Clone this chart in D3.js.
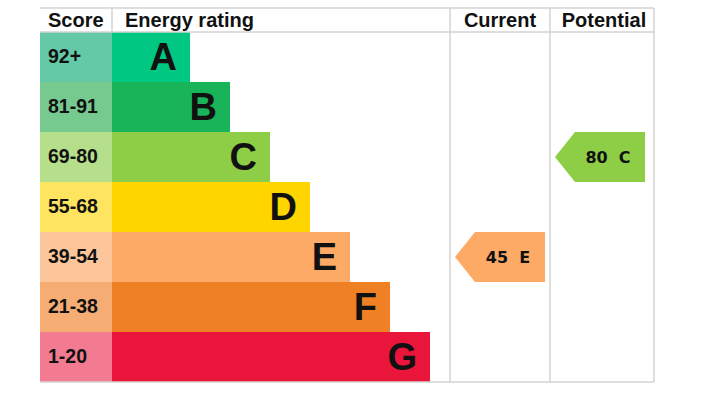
<!DOCTYPE html>
<html><head><meta charset="utf-8">
<script src="https://cdn.jsdelivr.net/npm/d3@7"></script>
<style>html,body{margin:0;padding:0;background:#fff;}svg{display:block;}</style>
</head><body>
<svg id="chart" width="715" height="405"></svg>
<script>
const bands = ["A","B","C","D","E","F","G"];
const scoreRanges = ["92+","81-91","69-80","55-68","39-54","21-38","1-20"];
const bandMins = [92,81,69,55,39,21,1];
const bandColors = ["#00c781","#19b459","#8dce46","#ffd500","#fcaa65","#ef8023","#e9153b"];
const scoreColors = ["#64c9a6","#76c98f","#b5df8b","#ffe45f","#fdc69a","#f5ad74","#f27b92"];
const headers = ["Score","Energy rating","Current","Potential"];
const currentScore = 45;
const potentialScore = 80;

(function () {
const svg = d3.select("#chart");
const leftX = 40, scoreRight = 112, curLeft = 450, potLeft = 550, rightX = 654;
const topY = 8, headBottom = 32, bottomY = 382;

const y = d3.scaleBand().domain(bands).range([headBottom, bottomY]).padding(0);
const xEnd = d3.scaleLinear().domain([0, bands.length - 1]).range([190, 430]);
const bandOf = s => bands[bandMins.findIndex(m => s >= m)];

const font = "'Liberation Sans', Arial, sans-serif";
const gridColor = "#d3d3d3";

// rows
const rows = svg.append("g").selectAll("g").data(bands).join("g");
rows.append("rect")
  .attr("x", leftX).attr("y", d => y(d))
  .attr("width", scoreRight - leftX).attr("height", y.bandwidth())
  .attr("fill", (d,i) => scoreColors[i]);
rows.append("rect")
  .attr("x", scoreRight).attr("y", d => y(d))
  .attr("width", (d,i) => xEnd(i) - scoreRight).attr("height", y.bandwidth())
  .attr("fill", (d,i) => bandColors[i]);
rows.append("text")
  .attr("x", leftX + 8).attr("y", d => y(d) + y.bandwidth()/2 + 6)
  .attr("font-family", font).attr("font-weight", "bold").attr("font-size", 19.5)
  .attr("fill", "#111")
  .text((d,i) => scoreRanges[i]);
rows.append("text")
  .attr("x", (d,i) => xEnd(i) - 13).attr("y", d => y(d) + y.bandwidth()/2 + 13)
  .attr("text-anchor", "end")
  .attr("font-family", font).attr("font-weight", "bold").attr("font-size", 38)
  .attr("fill", "#111")
  .text(d => d);

// grid lines
const g = svg.append("g").attr("stroke", gridColor).attr("stroke-width", 1.5).attr("fill", "none");
g.append("line").attr("x1", leftX).attr("x2", rightX).attr("y1", topY).attr("y2", topY);
g.append("line").attr("x1", leftX).attr("x2", rightX).attr("y1", headBottom).attr("y2", headBottom);
g.append("line").attr("x1", leftX).attr("x2", rightX).attr("y1", bottomY).attr("y2", bottomY);
g.append("line").attr("x1", scoreRight).attr("x2", scoreRight).attr("y1", topY).attr("y2", headBottom);
[curLeft, potLeft, rightX].forEach(x =>
  g.append("line").attr("x1", x).attr("x2", x).attr("y1", topY).attr("y2", bottomY));

// headers
const headX = [leftX + 8, scoreRight + 13, (curLeft + potLeft)/2, (potLeft + rightX)/2 + 2];
const headAnchor = ["start","start","middle","middle"];
svg.append("g").selectAll("text").data(headers).join("text")
  .attr("x", (d,i) => headX[i]).attr("y", 27)
  .attr("text-anchor", (d,i) => headAnchor[i])
  .attr("font-family", font).attr("font-weight", "bold").attr("font-size", 20)
  .attr("fill", "#111")
  .text(d => d);

// arrows
function arrow(score, x0, x1) {
  const b = bandOf(score);
  const i = bands.indexOf(b);
  const y0 = y(b), h = y.bandwidth(), tip = 20;
  const p = d3.path();
  p.moveTo(x0, y0 + h/2);
  p.lineTo(x0 + tip, y0);
  p.lineTo(x1, y0);
  p.lineTo(x1, y0 + h);
  p.lineTo(x0 + tip, y0 + h);
  p.closePath();
  svg.append("path").attr("d", p.toString()).attr("fill", bandColors[i]);
  svg.append("text")
    .attr("x", (x0 + tip + x1)/2 - 2).attr("y", y0 + h/2 + 6)
    .attr("text-anchor", "middle")
    .attr("font-family", "'DejaVu Sans', Verdana, sans-serif").attr("font-weight", "bold").attr("font-size", 16)
    .attr("fill", "#111")
    .style("white-space", "pre")
    .text(score + "  " + b);
}
arrow(currentScore, curLeft + 5, potLeft - 5);
arrow(potentialScore, potLeft + 5, rightX - 9);
})();
</script>
</body></html>
